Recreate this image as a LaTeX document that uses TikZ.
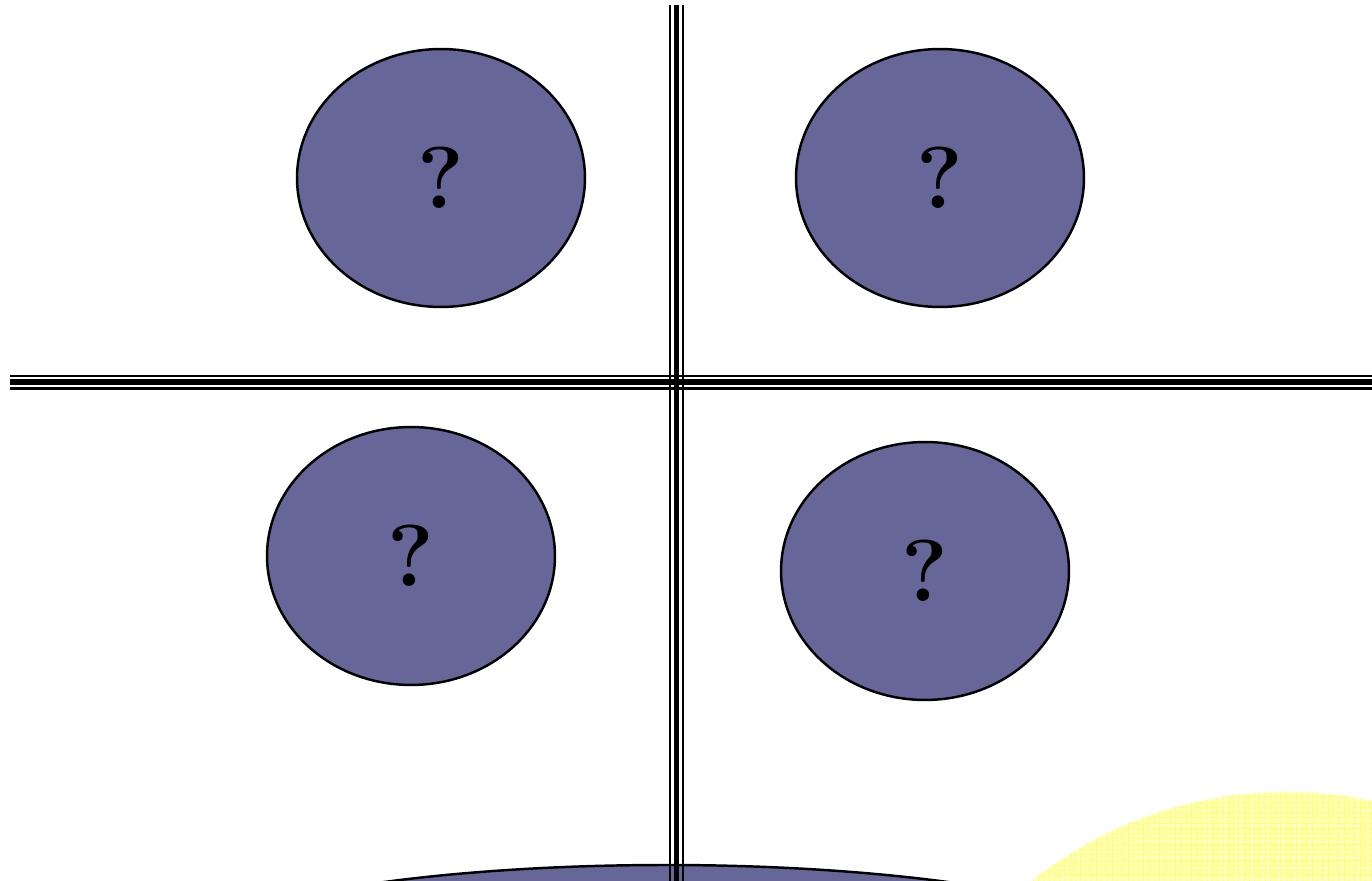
\documentclass[tikz,border=0pt]{standalone}
\usepackage{tikz}
\usetikzlibrary{shapes.geometric, patterns}

\definecolor{blob}{RGB}{102,102,153}
\definecolor{sunfill}{RGB}{255,255,185}
\definecolor{sungrid}{RGB}{255,255,120}

\begin{document}
\begin{tikzpicture}[
  x=0.02cm, y=-0.02cm,
  blob/.style={ellipse, draw=black, line width=1.4pt, fill=blob, minimum width=5.76cm, minimum height=5.16cm, inner sep=0pt, font=\fontsize{50}{60}\selectfont\bfseries},
  thinrail/.style={line width=1.4pt},
  thickrail/.style={line width=3.2pt}
]
\clip (0,0) rectangle (1372,881);

% background shapes cut by the border
\fill[sunfill] (1287,1202) ellipse [x radius=410, y radius=410];
\fill[pattern=grid, pattern color=sungrid] (1287,1202) ellipse [x radius=410, y radius=410];
\draw[blob] (666,965) ellipse [x radius=505, y radius=100];

% the four cells
\node[blob] (tl) at (441,178) {?};
\node[blob] (tr) at (940,178) {?};
\node[blob] (bl) at (411,556) {?};
\node[blob] (br) at (925,571) {?};

% vertical rail
\draw[thinrail] (670,5) -- (670,881);
\draw[thickrail] (676.5,5) -- (676.5,881);
\draw[thinrail] (683,5) -- (683,881);

% horizontal rail
\draw[thinrail] (10,376) -- (1372,376);
\draw[thickrail] (10,382) -- (1372,382);
\draw[thinrail] (10,388.5) -- (1372,388.5);
\end{tikzpicture}
\end{document}
